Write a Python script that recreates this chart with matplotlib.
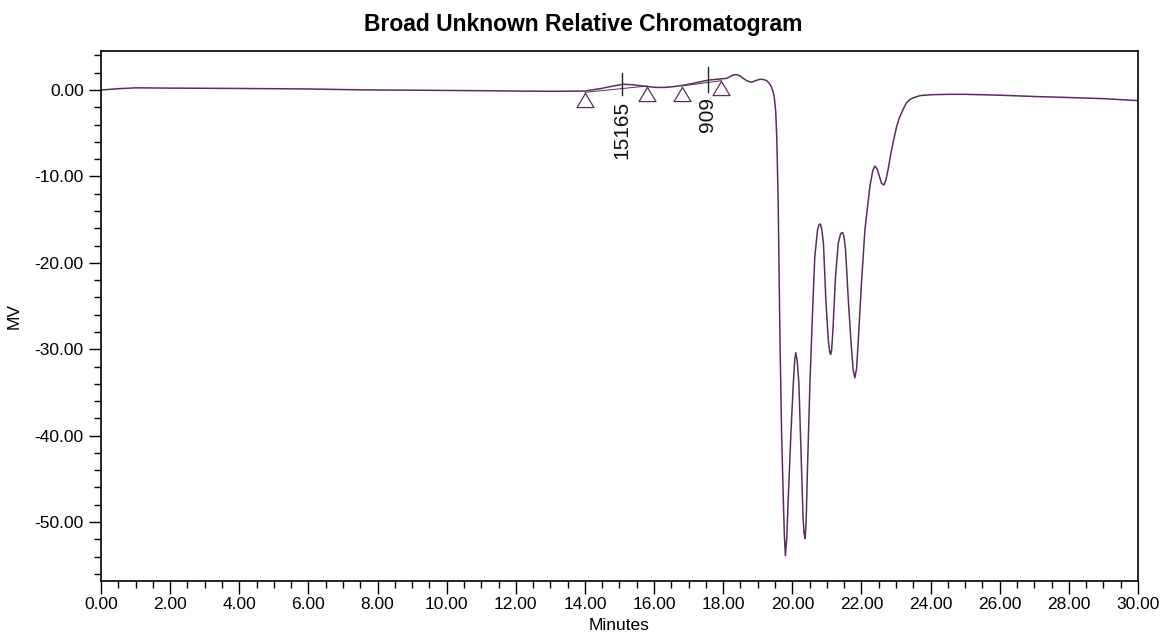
import matplotlib.pyplot as plt
from matplotlib.ticker import MultipleLocator, FormatStrFormatter
from matplotlib.path import Path

plt.rcParams['font.family'] = ['Liberation Sans', 'DejaVu Sans']

# Chromatogram trace (minutes, mV)
minutes = [0.0, 0.5, 1.0, 2.0, 3.0, 4.0, 5.0, 6.0, 7.0, 8.0, 9.0, 10.0, 11.0,
           12.0, 13.0, 13.5, 14.0, 14.5, 14.8, 15.1, 15.35, 15.6, 15.85, 16.07,
           16.3, 16.55, 16.85, 17.13, 17.4, 17.6, 17.9, 18.1, 18.2, 18.29,
           18.38, 18.48, 18.58, 18.68, 18.82, 18.95, 19.06, 19.16, 19.26,
           19.34, 19.40, 19.45, 19.48, 19.52, 19.55, 19.59, 19.64, 19.69,
           19.74, 19.77, 19.80, 19.84, 19.88, 19.96, 20.03, 20.07, 20.10,
           20.14, 20.19, 20.25, 20.31, 20.34, 20.37, 20.40, 20.44, 20.51,
           20.58, 20.65, 20.73, 20.77, 20.81, 20.85, 20.90, 20.97, 21.04,
           21.08, 21.11, 21.14, 21.18, 21.25, 21.33, 21.40, 21.46, 21.50,
           21.54, 21.62, 21.70, 21.76, 21.81, 21.86, 21.91, 22.00, 22.10,
           22.20, 22.25, 22.33, 22.39, 22.45, 22.52, 22.58, 22.65, 22.71,
           22.78, 22.85, 22.92, 23.02, 23.1, 23.21, 23.3, 23.4, 23.5, 23.7,
           24.0, 24.5, 25.0, 26.0, 27.0, 28.0, 29.0, 30.0]
mv = [0.0, 0.15, 0.25, 0.22, 0.2, 0.18, 0.15, 0.12, 0.05, 0.0, -0.02, -0.05,
      -0.08, -0.12, -0.15, -0.14, -0.12, 0.2, 0.45, 0.66, 0.62, 0.5, 0.38,
      0.3, 0.3, 0.38, 0.55, 0.77, 1.0, 1.16, 1.27, 1.35, 1.55, 1.74, 1.78,
      1.65, 1.35, 1.08, 0.9, 1.1, 1.24, 1.22, 1.08, 0.75, 0.3, -0.3, -0.9,
      -2.5, -5.5, -12.7, -28.2, -39.7, -47.5, -51.5, -53.9, -51.8, -47.5,
      -39.7, -33.9, -31.2, -30.4, -31.3, -33.9, -41.7, -49.4, -51.3, -51.9,
      -50.0, -43.6, -33.9, -26.2, -19.3, -16.2, -15.6, -15.5, -16.1, -17.7,
      -24.3, -28.9, -30.3, -30.6, -30.0, -27.4, -21.6, -17.7, -16.6, -16.5,
      -17.1, -18.5, -24.3, -29.3, -32.4, -33.3, -32.2, -28.9, -22.4, -16.2,
      -12.7, -11.0, -9.3, -8.8, -9.1, -10.0, -10.8, -11.0, -10.4, -9.0,
      -7.4, -6.0, -4.2, -3.2, -2.2, -1.5, -1.1, -0.9, -0.65, -0.55, -0.5,
      -0.5, -0.6, -0.75, -0.87, -1.0, -1.23]

# Integration markers (peak start / end) and baselines
marker_t = [14.0, 15.8, 16.8, 17.95]
marker_v = [-1.1, -0.5, -0.5, 0.24]
base_t = [[14.0, 15.8], [16.8, 17.95]]
base_v = [[-0.27, 0.46], [0.46, 1.08]]

# Peak apex ticks and labels
apex_t = [15.06, 17.55]
apex_top = [1.92, 2.7]
apex_bot = [-0.6, -0.2]
apex_labels = ['15165', '909']
label_top = [-1.3, -0.78]

line_color = '#5a2d5f'

fig = plt.figure(figsize=(11.65, 6.36), dpi=100)
ax = fig.add_axes([0.0867, 0.0868, 0.8901, 0.8335])

ax.plot(minutes, mv, color=line_color, linewidth=1.1)

for bt, bv in zip(base_t, base_v):
    ax.plot(bt, bv, color=line_color, linewidth=0.7)

tri = Path([(-1.2, -1.0), (1.2, -1.0), (0.0, 1.0), (-1.2, -1.0)], closed=True)
ax.plot(marker_t, marker_v, linestyle='none', marker=tri, markersize=12.2,
        markerfacecolor='none', markeredgecolor=line_color, markeredgewidth=0.9)

for t, top, bot, lab, lt in zip(apex_t, apex_top, apex_bot, apex_labels, label_top):
    ax.plot([t, t], [bot, top], color='#222222', linewidth=1.0)
    ax.text(t, lt, lab, rotation=90, ha='center', va='top', fontsize=15,
            color='#111111')

ax.set_xlim(0, 30)
ax.set_ylim(-56.8, 4.55)
ax.xaxis.set_major_locator(MultipleLocator(2))
ax.xaxis.set_minor_locator(MultipleLocator(0.5))
ax.yaxis.set_major_locator(MultipleLocator(10))
ax.yaxis.set_minor_locator(MultipleLocator(2))
ax.xaxis.set_major_formatter(FormatStrFormatter('%.2f'))
ax.yaxis.set_major_formatter(FormatStrFormatter('%.2f'))
ax.tick_params(which='major', direction='out', length=9, width=1.0,
               labelsize=12.5, colors='black')
ax.tick_params(which='minor', direction='out', length=5, width=1.0)
ax.tick_params(axis='x', pad=3)

for s in ax.spines.values():
    s.set_linewidth(1.2)

ax.set_xlabel('Minutes', fontsize=12.5, labelpad=4)
ax.set_ylabel('MV', fontsize=12.5, labelpad=9)
# title is centred on the whole figure, not on the axes
fig.text(0.501, 0.962, 'Broad Unknown Relative Chromatogram', fontsize=16.5,
         fontweight='bold', ha='center', va='center')

fig.savefig('out.png', dpi=100)
